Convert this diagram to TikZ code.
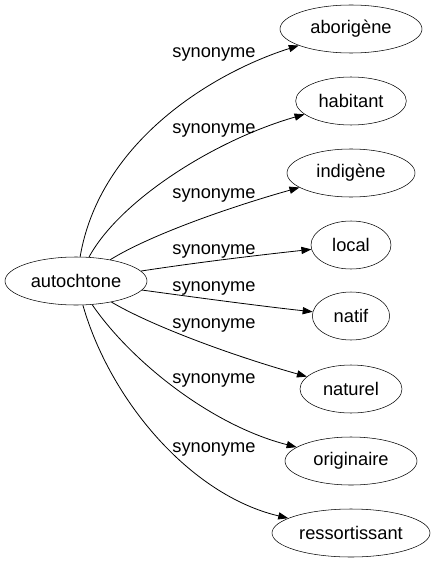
\documentclass[tikz,border=0pt]{standalone}
\usepackage{fontspec}
\setmainfont{Liberation Sans}
\usetikzlibrary{arrows.meta,shapes.geometric}
\begin{document}
\begin{tikzpicture}[x=0.75pt,y=-0.75pt,
  word/.style={draw,ellipse,inner sep=0pt,minimum height=36pt,font=\fontsize{13.7pt}{16pt}\selectfont},
  lbl/.style={inner sep=0pt,font=\fontsize{13.7pt}{16pt}\selectfont},
  edge/.style={draw,line width=0.6pt,-{Triangle[length=7.5pt,width=5.4pt]}}]
\useasboundingbox (0,0) rectangle (435,563);
\node[word,minimum width=106.5pt] (auto) at (76,281) {autochtone};
\node[word,minimum width=106.5pt] (abo) at (351,29) {aborigène};
\node[word,minimum width=83pt] (hab) at (351,101) {habitant};
\node[word,minimum width=96pt] (ind) at (351,173) {indigène};
\node[word,minimum width=60pt] (loc) at (351,245) {local};
\node[word,minimum width=58pt] (nat) at (351,316) {natif};
\node[word,minimum width=76.5pt] (ntr) at (351,389) {naturel};
\node[word,minimum width=99pt] (ori) at (351,461) {originaire};
\node[word,minimum width=118.5pt] (res) at (351,533) {ressortissant};
\node[lbl] (l1) at (214,54.5) {synonyme};
\node[lbl] (l2) at (214,130) {synonyme};
\node[lbl] (l3) at (214,195.5) {synonyme};
\node[lbl] (l4) at (214,251.5) {synonyme};
\node[lbl] (l5) at (214,288.5) {synonyme};
\node[lbl] (l6) at (214,325.5) {synonyme};
\node[lbl] (l7) at (214,380.5) {synonyme};
\node[lbl] (l8) at (214,449.5) {synonyme};
\draw[edge] (auto) .. controls (100,140) and (215,72) .. (abo);
\draw[edge] (auto) .. controls (120,200) and (215,140) .. (hab);
\draw[edge] (auto) .. controls (150,235) and (230,207) .. (ind);
\draw[edge] (auto) .. controls (200,262) and (260,255) .. (loc);
\draw[edge] (auto) .. controls (200,298) and (260,306) .. (nat);
\draw[edge] (auto) .. controls (150,325) and (230,355) .. (ntr);
\draw[edge] (auto) .. controls (130,360) and (210,425) .. (ori);
\draw[edge] (auto) .. controls (110,400) and (190,495) .. (res);
\end{tikzpicture}
\end{document}
